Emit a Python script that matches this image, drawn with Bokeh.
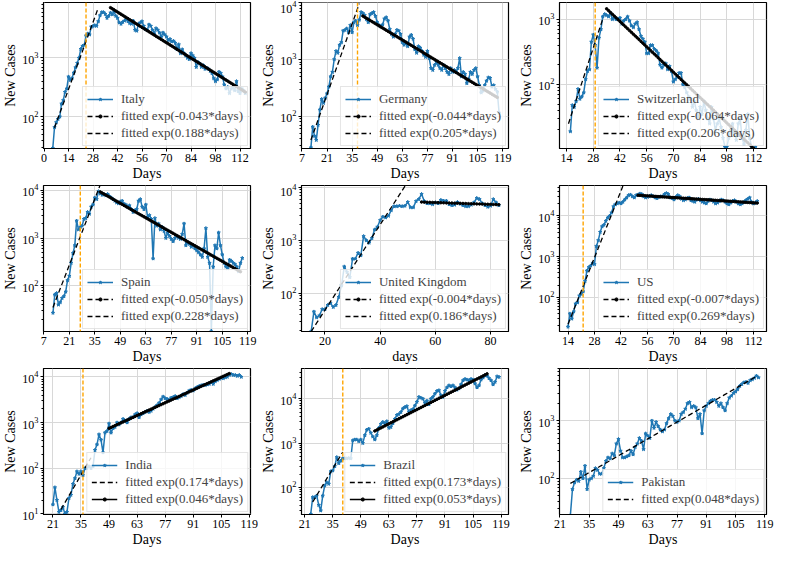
import numpy as np
from bokeh.plotting import figure
from bokeh.models import Span, Legend, LegendItem, FixedTicker, Range1d
from bokeh.layouts import gridplot
from bokeh.embed import file_html
from bokeh.resources import INLINE

# ---------------- data ----------------
countries = ["Italy", "Germany", "Switzerland", "Spain", "United Kingdom",
             "US", "India", "Brazil", "Pakistan"]

italy_start = 5
italy_cases = [29, 66, 80, 91, 100, 166, 190, 263, 300, 480,
               420, 450, 560, 690, 820, 1000, 1420, 1600, 1650, 2400,
               2600, 2500, 3400, 3500, 3600, 3500, 4200, 5300, 6000, 6000,
               5600, 4800, 5200, 5900, 5500, 6200, 5200, 4800, 4000, 3800,
               4100, 4300, 4600, 4200, 3900, 3800, 4300, 3000, 2900, 3800,
               4000, 4200, 3500, 3100, 3000, 3700, 3500, 3000, 2600, 3200,
               3000, 2700, 2300, 2700, 2500, 2300, 2000, 2100, 1900, 1950,
               1800, 1400, 1700, 1200, 1400, 1200, 1100, 1000, 950, 1200,
               1100, 1000, 700, 850, 800, 700, 750, 650, 680, 650,
               600, 550, 450, 400, 430, 580, 550, 480, 350, 300,
               320, 250, 300, 320, 280, 400, 270, 250, 300, 280, 250]

germany_start = 12
germany_cases = [28, 65, 45, 38, 70, 130, 200, 170, 210, 250,
                 330, 500, 600, 1000, 1400, 1300, 1800, 2000, 3200, 3300,
                 3500, 3000, 4000, 3000, 4500, 4800, 4000, 5000, 6800, 6500,
                 6000, 5100, 4500, 6200, 6500, 6800, 5800, 4500, 4000, 3800,
                 4100, 5200, 5500, 4800, 3400, 2800, 2500, 2800, 3300, 3200,
                 2800, 2000, 1800, 1900, 1700, 2500, 2700, 2300, 1500, 1300,
                 1700, 1600, 1400, 1200, 1100, 1400, 1050, 700, 650, 800,
                 900, 800, 700, 650, 800, 700, 600, 550, 700, 600,
                 650, 600, 700, 1050, 500, 600, 550, 380, 450, 600,
                 550, 650, 700, 500, 350, 260, 280, 350, 420, 480,
                 470, 330, 350, 300, 270, 115]

switzerland_start = 16
switzerland_cases = [19, 48, 45, 55, 85, 60, 65, 75, 120, 160,
                     170, 450, 580, 400, 180, 520, 700, 1100, 1200, 1150,
                     1100, 1250, 1000, 1050, 1000, 1000, 1050, 850, 950, 1000,
                     1100, 950, 800, 750, 850, 900, 700, 550, 500, 450,
                     300, 300, 400, 400, 350, 330, 300, 200, 180, 200,
                     210, 170, 190, 160, 110, 120, 130, 150, 150, 100,
                     90, 75, 65, 60, 45, 55, 40, 30, 45, 35,
                     55, 40, 30, 25, 45, 30, 20, 25, 30, 22,
                     15, 11, 11, 15, 20, 25, 18, 14, 25, 30,
                     15, 12, 20, 35, 15, 11, 9, 11, 8]

spain_start = 12
spain_cases = [27, 65, 70, 40, 45, 55, 60, 75, 130, 160,
               300, 480, 700, 2300, 1500, 1700, 1800, 2500, 2600, 3500,
               3200, 4500, 5000, 7000, 6500, 9500, 8500, 8000, 8200, 7800,
               8300, 7500, 7000, 6500, 6000, 5500, 5300, 5800, 6000, 5200,
               5000, 4500, 4800, 4000, 3500, 3800, 4000, 6000, 6500, 4500,
               4000, 5000, 2700, 3000, 2500, 370, 2600, 1800, 2000, 1500,
               1700, 1400, 1000, 1300, 1100, 950, 850, 1000, 1100, 1000,
               950, 1200, 2000, 700, 800, 750, 650, 700, 600, 550,
               500, 450, 400, 600, 1600, 400, 300, 11, 250, 700,
               600, 1300, 700, 450, 300, 250, 230, 350, 330, 300,
               280, 250, 200, 300, 380]

uk_start = 15
uk_cases = [19, 45, 35, 38, 50, 50, 60, 65, 55, 60,
            85, 140, 320, 250, 200, 450, 450, 580, 520, 1200,
            1000, 900, 1100, 1600, 1800, 2400, 2800, 2700, 2900, 3700,
            4400, 4400, 4500, 4400, 4500, 5300, 4200, 4200, 5500, 6000,
            7500, 5500, 5000, 5000, 4800, 5200, 5000, 5800, 5600, 5600,
            4800, 4600, 4700, 5300, 4900, 4600, 4400, 4400, 4700, 5200,
            6300, 6000, 5000, 4600, 4300, 4500, 6000, 5200, 4600]

us_start = 14
us_cases = [19, 40, 30, 45, 70, 75, 110, 120, 140, 250,
            450, 550, 600, 700, 650, 1800, 2500, 4000, 5500, 6000,
            7500, 9000, 10000, 12000, 17000, 19000, 20000, 21000, 20000, 22000,
            25000, 28000, 32000, 33000, 30000, 28000, 32000, 33000, 35000, 34000,
            30000, 28000, 29000, 30000, 32000, 30000, 28000, 27000, 29000, 30000,
            30000, 34000, 36000, 34000, 28000, 27000, 25000, 29000, 32000, 30000,
            26000, 24000, 25000, 27000, 28000, 24000, 23000, 22000, 25000, 26000,
            24000, 22000, 21000, 20000, 23000, 25000, 24000, 22000, 20000, 21000,
            23000, 25000, 24000, 22000, 20000, 19000, 21000, 23000, 24000, 22000,
            20000, 19000, 20000, 22000, 24000, 26000, 28000, 22000, 20000, 21000, 23000]

india_start = 21
india_cases = [16, 38, 20, 11, 12, 14, 10, 11, 22, 26,
               45, 60, 85, 75, 85, 70, 100, 100, 110, 100,
               110, 250, 330, 550, 420, 220, 600, 650, 950, 600,
               750, 800, 1000, 900, 1000, 1200, 1100, 1000, 1200, 1300,
               1300, 1500, 1600, 1300, 1500, 1600, 1700, 1800, 1700, 1800,
               2000, 2200, 2400, 2700, 3200, 3700, 3400, 3300, 3100, 3500,
               3600, 3800, 3400, 3600, 3800, 4200, 4000, 4500, 5000, 5200,
               5000, 5600, 6000, 6300, 6500, 6700, 6600, 6800, 7000, 7500,
               7000, 8000, 8500, 9000, 9500, 9300, 9800, 10000, 11000, 11500,
               11000, 11000, 10500, 11000, 10000]

brazil_start = 24
brazil_cases = [25, 60, 60, 65, 40, 30, 65, 110, 130, 120,
                230, 240, 300, 480, 350, 400, 450, 450, 450, 460,
                450, 1150, 1200, 1200, 1100, 1200, 1000, 1500, 2000, 2100,
                1700, 1400, 1200, 1500, 2200, 2700, 3000, 2800, 3100, 2200,
                2300, 2800, 3500, 4300, 4500, 5000, 6000, 6500, 6800, 5000,
                5500, 5800, 7000, 8500, 11000, 10500, 10000, 8000, 9000, 7500,
                10000, 11000, 13000, 15000, 15500, 12000, 11000, 15000, 18000, 20000,
                19000, 20000, 18000, 16000, 17000, 21000, 26000, 28000, 27000, 26000,
                28000, 27000, 22000, 18000, 20000, 27000, 30000, 34000, 33000, 29000,
                26000, 21000, 24000, 32000, 31000]

pakistan_start = 26
pakistan_cases = [23, 65, 85, 95, 90, 130, 100, 165, 65, 95,
                  100, 110, 150, 140, 120, 120, 150, 200, 230, 220,
                  270, 250, 400, 480, 300, 230, 230, 240, 250, 300,
                  260, 350, 400, 500, 450, 320, 600, 550, 500, 1000,
                  750, 950, 800, 700, 650, 700, 900, 1100, 1300, 1200,
                  1000, 950, 1000, 1300, 1400, 1600, 2000, 2100, 1700, 1800,
                  1700, 1100, 1300, 600, 1500, 1800, 2000, 2200, 2300, 2300,
                  2100, 1800, 2000, 1700, 1500, 2000, 2500, 2700, 3000, 3200,
                  3500, 4000, 4300, 4600, 4700, 4500, 5000, 5200, 5500, 6000, 5600]

# fitted exponentials: (rate k, first day, value on first day, last day)
italy_fits = [(-0.043, 38, 7200, 115), (0.188, 6, 65, 31.5)]
germany_fits = [(-0.044, 41, 5800, 116), (0.205, 12, 38, 39)]
switzerland_fits = [(-0.064, 35, 1450, 112), (0.206, 15, 25, 33.5)]
spain_fits = [(-0.050, 38, 9250, 115), (0.228, 12, 35, 38.5)]
uk_fits = [(-0.004, 55, 5300, 83), (0.186, 15, 19, 49.5)]
us_fits = [(-0.007, 51, 32000, 114), (0.269, 14, 22, 43)]
india_fits = [(0.174, 25, 12.5, 40), (0.046, 49, 750, 109)]
brazil_fits = [(0.173, 25, 47, 40.5), (0.053, 56, 1880, 112)]
pakistan_fits = [(0.048, 26, 82, 115)]

lockdown_days = [24, 38, 29, 27, None, 22, 36, 40, None]

italy_xticks = [0, 14, 28, 42, 56, 70, 84, 98, 112]
germany_xticks = [7, 21, 35, 49, 63, 77, 91, 105, 119]
switzerland_xticks = [14, 28, 42, 56, 70, 84, 98, 112]
spain_xticks = [7, 21, 35, 49, 63, 77, 91, 105, 119]
uk_xticks = [20, 40, 60, 80]
us_xticks = [14, 28, 42, 56, 70, 84, 98, 112]
india_xticks = [21, 35, 49, 63, 77, 91, 105, 119]
brazil_xticks = [21, 35, 49, 63, 77, 91, 105, 119]
pakistan_xticks = [21, 35, 49, 63, 77, 91, 105, 119]

x_labels = ["Days", "Days", "Days", "Days", "days", "Days", "Days", "Days", "Days"]

# ---------------- styling ----------------
BLUE = "#1f77b4"
FONT = "Liberation Serif"
W, H = 258, 183


def log_ticks(lo, hi):
    majors = [10.0 ** e for e in range(0, 7) if lo <= 10.0 ** e <= hi]
    minors = [m * 10.0 ** e for e in range(0, 7) for m in range(2, 10)
              if lo <= m * 10.0 ** e <= hi]
    return majors, minors


def panel(name, start, cases, fits, styles, lockdown, xr, yr, xticks, xlabel):
    p = figure(width=W, height=H, x_range=Range1d(*xr), y_range=Range1d(*yr),
               y_axis_type="log", output_backend="svg", toolbar_location=None,
               min_border_left=40, min_border_right=8, min_border_top=2,
               min_border_bottom=29)
    p.outline_line_color = "black"
    p.outline_line_width = 1.2
    p.outline_line_alpha = 1.0

    xt = FixedTicker(ticks=xticks, minor_ticks=[])
    p.xaxis.ticker = xt
    p.xgrid.ticker = xt
    majors, minors = log_ticks(*yr)
    yt = FixedTicker(ticks=majors, minor_ticks=minors)
    p.yaxis.ticker = yt
    p.ygrid.ticker = yt
    p.grid.grid_line_color = "#d8d8d8"
    p.grid.grid_line_width = 1

    p.xaxis.axis_label = xlabel
    p.yaxis.axis_label = "New Cases"
    for ax in (p.xaxis[0], p.yaxis[0]):
        ax.axis_label_text_font = FONT
        ax.axis_label_text_font_style = "normal"
        ax.axis_label_text_font_size = "14px"
        ax.axis_label_text_color = "black"
        ax.major_label_text_font = FONT
        ax.major_label_text_font_size = "12px"
        ax.major_label_text_color = "black"
        ax.axis_line_color = "black"
        ax.major_tick_line_color = "black"
        ax.minor_tick_line_color = "black"
        ax.major_tick_out = 3
        ax.major_tick_in = 0
        ax.minor_tick_out = 2
        ax.minor_tick_in = 0
        ax.axis_label_standoff = 1
        ax.major_label_standoff = 2
    p.xaxis.minor_tick_line_color = None

    if lockdown is not None:
        p.add_layout(Span(location=lockdown, dimension="height",
                          line_color="orange", line_dash="4 2", line_width=1.4))

    days = np.arange(start, start + len(cases))
    r1 = p.line(days, cases, line_color=BLUE, line_width=1.5)
    r2 = p.scatter(days, cases, marker="star", size=3.5, color=BLUE)
    items = [LegendItem(label=name, renderers=[r1, r2])]

    for (k, d0, v0, d1), style in zip(fits, styles):
        fd = np.arange(d0, d1 + 1e-9, 1.0)
        fv = v0 * np.exp(k * (fd - d0))
        if style == "dash":
            r = p.line(fd, fv, line_color="black", line_dash="5 3", line_width=1.3)
            rs = [r]
        elif style == "dashmark":
            r = p.line(fd, fv, line_color="black", line_dash="5 3", line_width=1.3)
            s = p.scatter(fd, fv, marker="circle", size=2.5, color="black")
            rs = [r, s]
        else:
            r = p.line(fd, fv, line_color="black", line_width=1.4)
            s = p.scatter(fd, fv, marker="circle", size=2.5, color="black")
            rs = [r, s]
        items.append(LegendItem(label=f"fitted exp({k:.3f}*days)", renderers=rs))

    leg = Legend(items=items, location="bottom_right")
    leg.label_text_font = FONT
    leg.label_text_font_size = "13px"
    leg.border_line_color = "#cccccc"
    leg.border_line_width = 1
    leg.background_fill_alpha = 0.8
    leg.glyph_width = 26
    leg.glyph_height = 8
    leg.label_height = 14
    leg.spacing = 1
    leg.padding = 4
    leg.margin = 2
    leg.label_standoff = 8
    p.add_layout(leg)
    return p


decay_first = ["dashmark", "dash"]
growth_first = ["dash", "solidmark"]

p1 = panel(countries[0], italy_start, italy_cases, italy_fits, decay_first,
           lockdown_days[0], (-0.3, 118), (28.7, 8810), italy_xticks, x_labels[0])
p2 = panel(countries[1], germany_start, germany_cases, germany_fits, decay_first,
           lockdown_days[1], (6.75, 122.25), (27, 10050), germany_xticks, x_labels[1])
p3 = panel(countries[2], switzerland_start, switzerland_cases, switzerland_fits, decay_first,
           lockdown_days[2], (10.3, 118.8), (10.4, 1810), switzerland_xticks, x_labels[2])
p4 = panel(countries[3], spain_start, spain_cases, spain_fits, decay_first,
           lockdown_days[3], (6.8, 120.5), (11, 12600), spain_xticks, x_labels[3])
p5 = panel(countries[4], uk_start, uk_cases, uk_fits, decay_first,
           lockdown_days[4], (11.5, 86.5), (19, 10900), uk_xticks, x_labels[4])
p6 = panel(countries[5], us_start, us_cases, us_fits, decay_first,
           lockdown_days[5], (9.5, 118.9), (14.6, 55500), us_xticks, x_labels[5])
p7 = panel(countries[6], india_start, india_cases, india_fits, growth_first,
           lockdown_days[6], (16.3, 119.6), (9.7, 15300), india_xticks, x_labels[6])
p8 = panel(countries[7], brazil_start, brazil_cases, brazil_fits, growth_first,
           lockdown_days[7], (19.4, 122.7), (24.5, 48300), brazil_xticks, x_labels[7])
p9 = panel(countries[8], pakistan_start, pakistan_cases, pakistan_fits, ["dash"],
           lockdown_days[8], (20.8, 119.8), (23.7, 8040), pakistan_xticks, x_labels[8])

grid = gridplot([[p1, p2, p3], [p4, p5, p6], [p7, p8, p9]], toolbar_location=None)

open("out.html", "w").write(file_html(grid, INLINE))
